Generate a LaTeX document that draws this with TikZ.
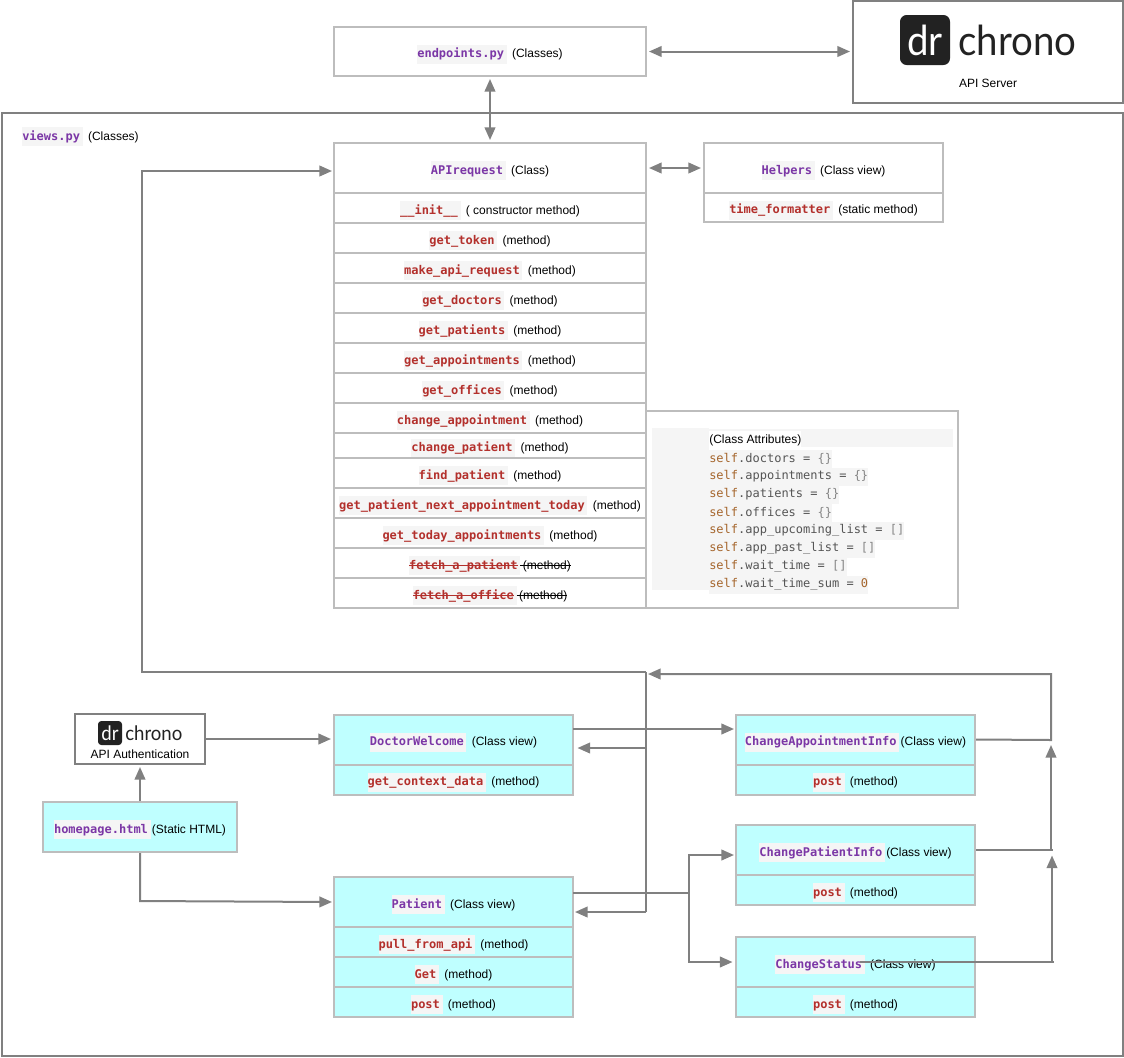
\documentclass[tikz,border=0pt]{standalone}
\usepackage{fontspec}
\usetikzlibrary{arrows.meta}
\setmainfont{Liberation Sans}
\newfontfamily\codefont{DejaVu Sans Mono}
\newfontfamily\logofont[FakeStretch=0.93]{Lato}
\definecolor{boxgray}{HTML}{BDBDBD}
\definecolor{edgegray}{HTML}{808080}
\definecolor{viewcyan}{HTML}{BFFFFF}
\definecolor{codebg}{HTML}{F5F5F5}
\definecolor{codepurple}{HTML}{7B37A6}
\definecolor{codered}{HTML}{B3302C}
\definecolor{selfbrown}{HTML}{A5652C}
\definecolor{attrgray}{HTML}{555555}
\definecolor{bracegray}{HTML}{858585}
\definecolor{logoblack}{HTML}{222222}
\newsavebox{\strikesave}
\newcommand{\struck}[1]{\sbox{\strikesave}{#1}\usebox{\strikesave}\llap{\rule[2.6pt]{\wd\strikesave}{0.7pt}}}
\newcommand{\codebox}[2]{{\setlength{\fboxsep}{0pt}\colorbox{codebg}{\rule[-4.5pt]{0pt}{14pt}\codefont\bfseries\textcolor{#1}{#2}\hspace{2pt}}}}
\newcommand{\cls}[3][4pt]{\rule{0pt}{13.5pt}\codebox{codepurple}{#2}\hspace{#1}#3}
\newcommand{\mth}[2]{\rule{0pt}{13.5pt}\codebox{codered}{#1}\hspace{4pt}#2}
\newcommand{\gonemth}[2]{\rule{0pt}{13.5pt}\codebox{codered}{\struck{#1}}\struck{\hspace{2pt}#2}}
\newcommand{\attr}[2]{\textcolor{selfbrown}{self}\textcolor{attrgray}{.#1 = }\textcolor{bracegray}{#2}}
\tikzset{
 classbox/.style={rectangle,draw=boxgray,line width=1.5pt,inner sep=0pt,font=\fontsize{9}{11}\selectfont},
 apibox/.style={classbox,minimum width=234pt},
 apirow/.style={apibox,minimum height=22.5pt},
 helperbox/.style={classbox,minimum width=179.25pt},
 viewbox/.style={helperbox,fill=viewcyan},
 viewrow/.style={viewbox,minimum height=22.5pt},
 titlerow/.style={minimum height=37.5pt},
 darkbox/.style={rectangle,draw=edgegray,line width=1.5pt,inner sep=0pt},
 plainlabel/.style={inner sep=0pt,font=\fontsize{9}{11}\selectfont},
 attrline/.style={anchor=west,fill=codebg,inner sep=0pt,minimum height=13.5pt,font=\codefont\fontsize{9}{11}\selectfont},
 flow/.style={draw=edgegray,line width=1.5pt,line join=miter},
 onearrow/.style={flow,-{Triangle[length=9.5pt,width=8pt]},shorten >=1.5pt},
 twoarrow/.style={flow,{Triangle[length=9.5pt,width=8pt]}-{Triangle[length=9.5pt,width=8pt]},shorten >=1.5pt,shorten <=1.5pt}
}
\begin{document}
\begin{tikzpicture}[x=0.75pt,y=-0.75pt]
 \useasboundingbox (0,0) rectangle (1124,1057);

 \node (views) [darkbox,minimum width=840.75pt,minimum height=707.25pt] at (562.5,584.5) {};
 \node (viewslabel) [plainlabel,anchor=west] at (22,134) {\cls{views.py}{(Classes)}};

 \node (endpoints) [apibox,minimum height=36.75pt] at (490,51.5) {\cls{endpoints.py}{(Classes)}};

 \node (drserver) [darkbox,minimum width=202.5pt,minimum height=76.5pt] at (988,52) {};
 \node (drlogo) [rectangle,fill=logoblack,rounded corners=5pt,minimum size=37.5pt,inner sep=0pt,text=white,font=\logofont\fontsize{31}{31}\selectfont] at (925,40) {dr};
 \node (drname) [inner sep=0pt,text=logoblack,font=\logofont\fontsize{31}{31}\selectfont,anchor=west] at (958,40) {chrono};
 \node (drlabel) [plainlabel] at (988,83) {API Server};

 \node (apirequest) [apibox,titlerow] at (490,168) {\cls{APIrequest}{(Class)}};
 \node (init) [apirow] at (490,208) {\mth{\_\_init\_\_}{( constructor method)}};
 \node (gettoken) [apirow] at (490,238) {\mth{get\_token}{(method)}};
 \node (makeapi) [apirow] at (490,268) {\mth{make\_api\_request}{(method)}};
 \node (getdoctors) [apirow] at (490,298) {\mth{get\_doctors}{(method)}};
 \node (getpatients) [apirow] at (490,328) {\mth{get\_patients}{(method)}};
 \node (getappts) [apirow] at (490,358) {\mth{get\_appointments}{(method)}};
 \node (getoffices) [apirow] at (490,388) {\mth{get\_offices}{(method)}};
 \node (changeappt) [apirow] at (490,418) {\mth{change\_appointment}{(method)}};
 \node (changepat) [apibox,minimum height=18.75pt] at (490,445.5) {\mth{change\_patient}{(method)}};
 \node (findpat) [apirow] at (490,473) {\mth{find\_patient}{(method)}};
 \node (nextappt) [apirow] at (490,503) {\mth{get\_patient\_next\_appointment\_today}{(method)}};
 \node (todayappts) [apirow] at (490,533) {\mth{get\_today\_appointments}{(method)}};
 \node (fetchpat) [apirow] at (490,563) {\gonemth{fetch\_a\_patient}{(method)}};
 \node (fetchoff) [apirow] at (490,593) {\gonemth{fetch\_a\_office}{(method)}};

 \node (helpers) [helperbox,titlerow] at (823.5,168) {\cls{Helpers}{(Class view)}};
 \node (timefmt) [helperbox,minimum height=21.75pt] at (823.5,207.5) {\mth{time\_formatter}{(static method)}};

 \node (attrs) [classbox,minimum width=234pt,minimum height=147.75pt] at (802,509.5) {};
 \node (attrpad) [fill=codebg,inner sep=0pt,minimum width=43pt,minimum height=121.5pt] at (680.5,509) {};
 \node (attrhead) [attrline,minimum width=183pt,font=\fontsize{9}{11}\selectfont] at (709,438) {};
 \node (attrtitle) [attrline,fill=white,font=\fontsize{9}{11}\selectfont] at (709,440) {(Class Attributes)};
 \node (attrdoctors) [attrline] at (709,458.5) {\attr{doctors}{\{\}}};
 \node (attrappts) [attrline] at (709,476.5) {\attr{appointments}{\{\}}};
 \node (attrpatients) [attrline] at (709,494.5) {\attr{patients}{\{\}}};
 \node (attroffices) [attrline] at (709,512.5) {\attr{offices}{\{\}}};
 \node (attrupcoming) [attrline] at (709,530.5) {\attr{app\_upcoming\_list}{[]}};
 \node (attrpast) [attrline] at (709,548.5) {\attr{app\_past\_list}{[]}};
 \node (attrwait) [attrline] at (709,566.5) {\attr{wait\_time}{[]}};
 \node (attrsum) [attrline] at (709,584.5) {\attr{wait\_time\_sum}{\textcolor{selfbrown}{0}}};

 \node (auth) [darkbox,minimum width=97.5pt,minimum height=37.5pt] at (140,739) {};
 \node (authlogo) [rectangle,fill=logoblack,rounded corners=2.5pt,minimum size=18pt,inner sep=0pt,text=white,font=\logofont\fontsize{15}{15}\selectfont] at (110,733) {dr};
 \node (authname) [inner sep=0pt,text=logoblack,font=\logofont\fontsize{15}{15}\selectfont,anchor=west] at (125,733) {chrono};
 \node (authlabel) [plainlabel] at (140,754) {API Authentication};

 \node (homepage) [classbox,fill=viewcyan,minimum width=145.5pt,titlerow] at (140,827) {\cls[1pt]{homepage.html}{(Static HTML)}};

 \node (doctorwelcome) [viewbox,titlerow] at (453.5,739.5) {\cls{DoctorWelcome}{(Class view)}};
 \node (contextdata) [viewrow] at (453.5,779.5) {\mth{get\_context\_data}{(method)}};

 \node (patient) [viewbox,titlerow] at (453.5,902) {\cls{Patient}{(Class view)}};
 \node (pullapi) [viewrow] at (453.5,942) {\mth{pull\_from\_api}{(method)}};
 \node (patget) [viewrow] at (453.5,972) {\mth{Get}{(method)}};
 \node (patpost) [viewrow] at (453.5,1002) {\mth{post}{(method)}};

 \node (changeapptinfo) [viewbox,titlerow] at (855.5,739.5) {\cls[1pt]{ChangeAppointmentInfo}{(Class view)}};
 \node (apptpost) [viewrow] at (855.5,779.5) {\mth{post}{(method)}};
 \node (changepatinfo) [viewbox,titlerow] at (855.5,850) {\cls[1pt]{ChangePatientInfo}{(Class view)}};
 \node (patinfopost) [viewrow] at (855.5,890) {\mth{post}{(method)}};
 \node (changestatus) [viewbox,titlerow] at (855.5,962) {\cls{ChangeStatus}{(Class view)}};
 \node (statuspost) [viewrow] at (855.5,1002) {\mth{post}{(method)}};

 \coordinate (apientry) at (334,171);
 \coordinate (leftcorner) at (142,672);
 \coordinate (backtop) at (646,672);
 \coordinate (backwelcome) at (646,748);
 \coordinate (backpatient) at (646,912);
 \coordinate (welcomeback) at (575.5,748);
 \coordinate (patientback) at (573,912);
 \coordinate (welcomeout) at (573,729);
 \coordinate (apptin) at (736,729);
 \coordinate (patientout) at (573,893);
 \coordinate (forkpoint) at (689,893);
 \coordinate (patinfoin) at (736,855);
 \coordinate (statusin) at (734.5,962);
 \coordinate (rightapptjoin) at (1051,740);
 \coordinate (righttop) at (1051,674);
 \coordinate (backright) at (646,674);
 \coordinate (riserone) at (1051,743);
 \coordinate (patinfojoin) at (1053,850);
 \coordinate (risertwo) at (1052,853.5);
 \coordinate (statusstart) at (860,962);
 \coordinate (statusjoin) at (1054,962);
 \coordinate (homeentry) at (334,902);
 \coordinate (homecorner) at (140,901);

 \draw [twoarrow] (endpoints.east) -- (endpoints.east -| drserver.west);
 \draw [twoarrow] (endpoints.south) -- (apirequest.north);
 \draw [twoarrow] (apirequest.east) -- (helpers.west);
 \draw [onearrow] (backtop) -- (leftcorner) |- (apientry);
 \draw [flow] (backtop) -- (backpatient);
 \draw [onearrow] (backwelcome) -- (welcomeback);
 \draw [onearrow] (backpatient) -- (patientback);
 \draw [onearrow] (welcomeout) -- (apptin);
 \draw [flow] (patientout) -- (forkpoint);
 \draw [onearrow] (forkpoint) |- (patinfoin);
 \draw [onearrow] (forkpoint) |- (statusin);
 \draw [onearrow] (changeapptinfo.east) -- (rightapptjoin) -- (righttop) -- (backright);
 \draw [flow] (changepatinfo.east) -- (patinfojoin);
 \draw [onearrow] (patinfojoin -| riserone) -- (riserone);
 \draw [flow] (statusstart) -- (statusjoin);
 \draw [onearrow] (statusjoin -| risertwo) -- (risertwo);
 \draw [onearrow] (auth.east) -- (doctorwelcome.west |- auth.east);
 \draw [onearrow] (homepage.north) -- (auth.south);
 \draw [onearrow] (homepage.south) -- (homecorner) -- (homeentry);
\end{tikzpicture}
\end{document}
